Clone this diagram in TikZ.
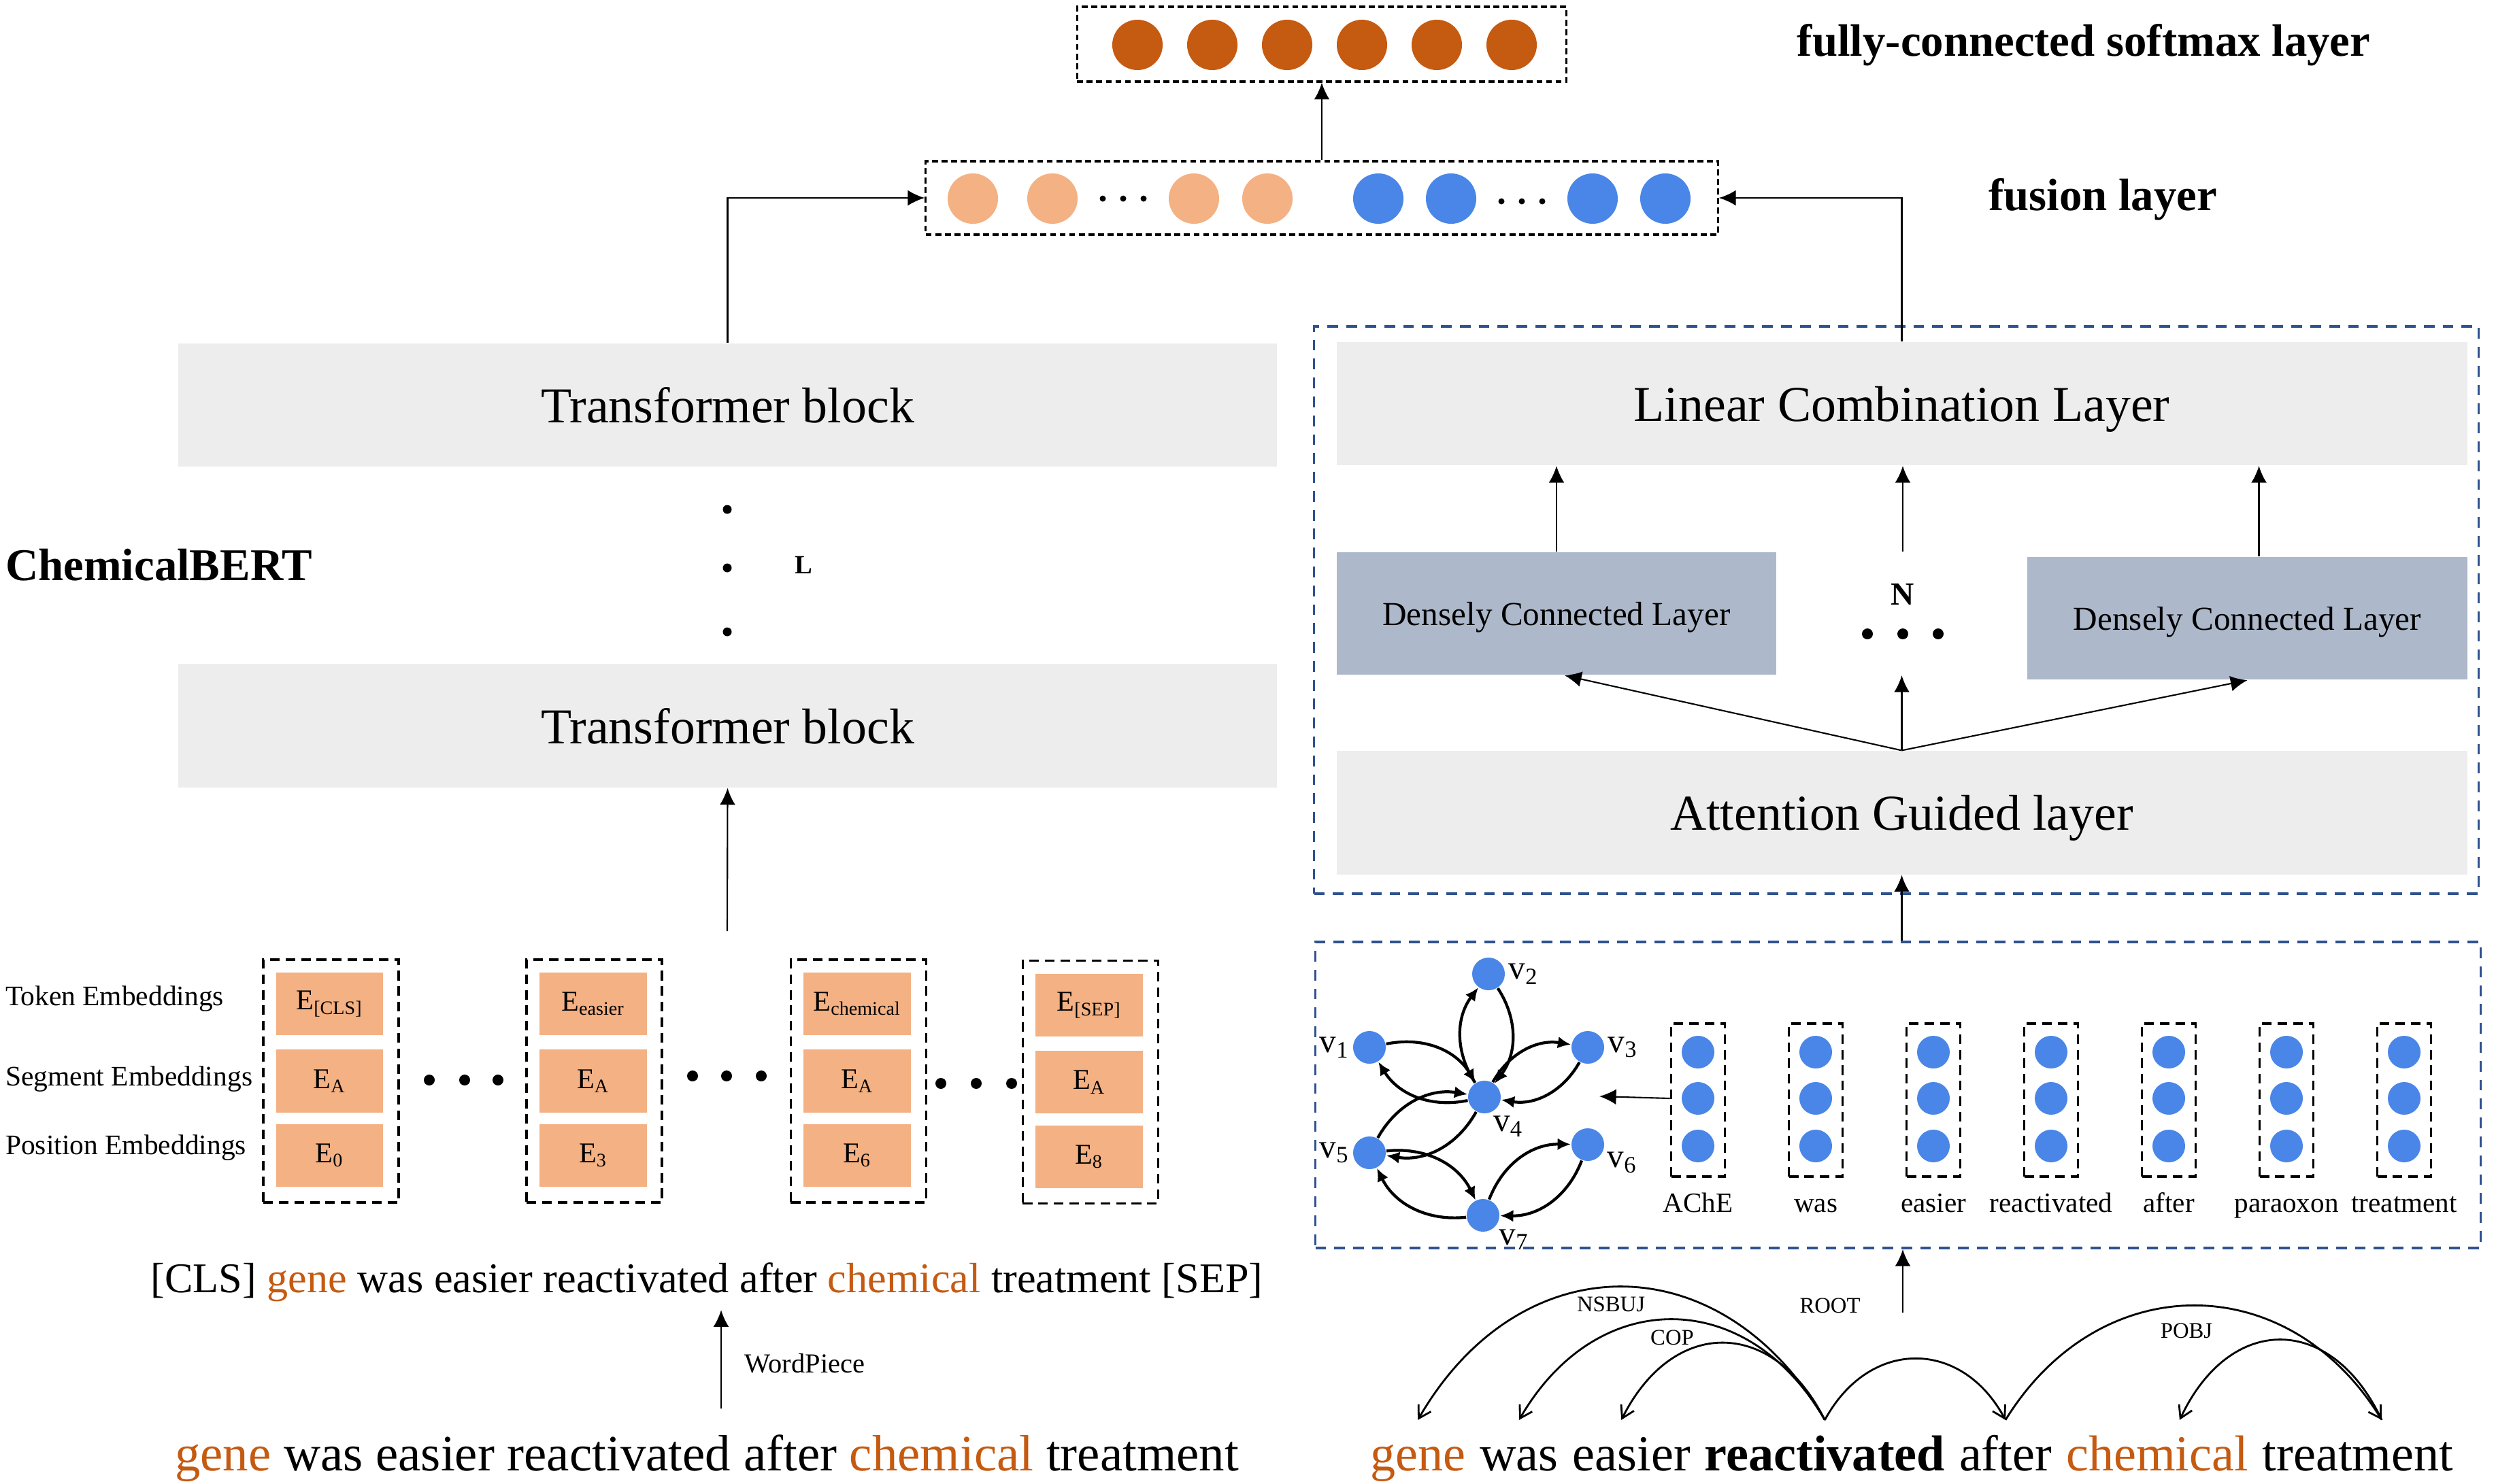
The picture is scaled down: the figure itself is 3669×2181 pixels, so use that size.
\documentclass[tikz,border=0pt]{standalone}
\usepackage{fontspec}
\setmainfont{Liberation Serif}
\usetikzlibrary{positioning,arrows.meta}
\definecolor{darkorange}{RGB}{197,90,17}
\definecolor{peach}{RGB}{244,177,131}
\definecolor{nodeblue}{RGB}{74,134,232}
\definecolor{layergrey}{RGB}{237,237,237}
\definecolor{densegrey}{RGB}{173,185,202}
\definecolor{boxblue}{RGB}{47,82,143}
\begin{document}
\begin{tikzpicture}[x=0.01cm, y=-0.01cm, line width=0.6pt,
    >={Latex[length=7pt,width=6.5pt]},
    blocklayer/.style={fill=layergrey, minimum height=1.81cm, text depth=0pt, font=\fontsize{21}{25}\selectfont},
    dense/.style={fill=densegrey, minimum width=6.46cm, minimum height=1.80cm, text depth=0pt, font=\fontsize{14}{17}\selectfont},
    dbox/.style={draw, line width=0.9pt, dash pattern=on 2.5pt off 1.5pt},
    bbox/.style={draw=boxblue, line width=1.1pt, dash pattern=on 4.5pt off 3.4pt},
    ebox/.style={draw, line width=1pt, dash pattern=on 4pt off 2.5pt},
    unit/.style={circle, inner sep=0pt, minimum size=0.74cm},
    emb/.style={fill=peach, minimum width=1.57cm, minimum height=0.92cm, font=\fontsize{12}{14}\selectfont},
    gnode/.style={circle, fill=nodeblue, inner sep=0pt, minimum size=0.48cm},
    vlab/.style={font=\fontsize{14}{16}\selectfont, inner sep=1pt},
    gedge/.style={->, >={Latex[length=5.5pt,width=5pt]}, line width=1.2pt},
    wordcol/.style={ebox, minimum width=0.79cm, minimum height=2.25cm},
    wlab/.style={anchor=base, font=\fontsize{11.7}{14}\selectfont},
    tok/.style={inner xsep=0pt, inner ysep=5.5pt, text height=15.3pt, text depth=4.7pt, font=\fontsize{21.1}{25}\selectfont},
    dep/.style={line width=0.8pt, -{Straight Barb[length=5pt,width=6pt]}},
    deplab/.style={font=\fontsize{9.3}{11}\selectfont},
    headlabel/.style={font=\bfseries\fontsize{19}{23}\selectfont},
    rowlab/.style={anchor=west, inner sep=0pt, font=\fontsize{11.8}{14}\selectfont}]
    \useasboundingbox (0,0) rectangle (3669,2181);

    % softmax layer
    \node[dbox, minimum width=7.19cm, minimum height=1.10cm] (softmax) at (1943,65) {};
    \node[unit, fill=darkorange] (o1) at (1672,66) {};
    \node[unit, fill=darkorange] (o2) at (1782,66) {};
    \node[unit, fill=darkorange] (o3) at (1892,66) {};
    \node[unit, fill=darkorange] (o4) at (2002,66) {};
    \node[unit, fill=darkorange] (o5) at (2112,66) {};
    \node[unit, fill=darkorange] (o6) at (2222,66) {};
    \node[headlabel] (fclabel) at (3063,66) {fully-connected softmax layer};

    % fusion layer
    \node[dbox, minimum width=11.64cm, minimum height=1.08cm] (fusion) at (1943,291) {};
    \node[unit, fill=peach] (f1) at (1430,292) {};
    \node[unit, fill=peach] (f2) at (1547,292) {};
    \node[unit, fill=peach] (f3) at (1755,292) {};
    \node[unit, fill=peach] (f4) at (1863,292) {};
    \node[unit, fill=nodeblue] (f5) at (2026,292) {};
    \node[unit, fill=nodeblue] (f6) at (2133,292) {};
    \node[unit, fill=nodeblue] (f7) at (2341,292) {};
    \node[unit, fill=nodeblue] (f8) at (2448,292) {};
    \fill (1621,292) circle (0.045cm) (1651,292) circle (0.045cm) (1681,292) circle (0.045cm);
    \fill (2207,296) circle (0.045cm) (2237,296) circle (0.045cm) (2267,296) circle (0.045cm);
    \node[headlabel] (fuslabel) at (3091,293) {fusion layer};
    \draw[->] (fusion.north) -- (softmax.south);

    % ChemicalBERT
    \node[blocklayer, minimum width=16.15cm] (tb2) at (1069.5,595.5) {Transformer block};
    \node[blocklayer, minimum width=16.15cm] (tb1) at (1069.5,1067) {Transformer block};
    \fill (1069,749) circle (0.065cm) (1069,835) circle (0.065cm) (1069,929) circle (0.065cm);
    \node[font=\bfseries\fontsize{11}{13}\selectfont] (nl) at (1181,831) {L};
    \node[anchor=west, inner sep=0pt, font=\bfseries\fontsize{19}{23}\selectfont] (chembert) at (7,831) {ChemicalBERT};
    \draw[->] (tb2.north) |- (fusion.west);

    % embeddings
    \node[rowlab] (tokrow) at (7,1469) {Token Embeddings};
    \node[rowlab] (segrow) at (7,1587) {Segment Embeddings};
    \node[rowlab] (posrow) at (7,1688) {Position Embeddings};
    \node[ebox, minimum width=1.99cm, minimum height=3.57cm] (c1) at (486.5,1589.5) {};
    \node[ebox, minimum width=1.99cm, minimum height=3.57cm] (c2) at (873.5,1589.5) {};
    \node[ebox, minimum width=1.99cm, minimum height=3.57cm] (c3) at (1262,1589.5) {};
    \node[ebox, minimum width=1.99cm, minimum height=3.57cm] (c4) at (1603,1591) {};
    \node[emb] (t1) at (484.5,1476) {E\textsubscript{[CLS]}};
    \node[emb] (s1) at (484.5,1589.5) {E\textsubscript{A}};
    \node[emb] (p1) at (484.5,1699) {E\textsubscript{0}};
    \node[emb] (t2) at (872,1476) {E\textsubscript{easier}};
    \node[emb] (s2) at (872,1589.5) {E\textsubscript{A}};
    \node[emb] (p2) at (872,1699) {E\textsubscript{3}};
    \node[emb] (t3) at (1260,1476) {E\textsubscript{chemical}};
    \node[emb] (s3) at (1260,1589.5) {E\textsubscript{A}};
    \node[emb] (p3) at (1260,1699) {E\textsubscript{6}};
    \node[emb] (t4) at (1601,1478) {E\textsubscript{[SEP]}};
    \node[emb] (s4) at (1601,1591) {E\textsubscript{A}};
    \node[emb] (p4) at (1601,1701) {E\textsubscript{8}};
    \fill (631,1588) circle (0.08cm) (683,1588) circle (0.08cm) (732,1588) circle (0.08cm);
    \fill (1018,1582) circle (0.08cm) (1068,1582) circle (0.08cm) (1119,1582) circle (0.08cm);
    \fill (1383,1593) circle (0.08cm) (1435,1593) circle (0.08cm) (1487,1593) circle (0.08cm);
    \coordinate (embtop) at (1069,1369);
    \draw[->] (embtop) -- (tb1.south);

    % input sentence
    \node[anchor=base, font=\fontsize{17.7}{21}\selectfont] (cls) at (1039,1900) {[CLS] \textcolor{darkorange}{gene} was easier reactivated after \textcolor{darkorange}{chemical} treatment [SEP]};
    \node[anchor=base, font=\fontsize{21.3}{25}\selectfont] (sent) at (1039,2162) {\textcolor{darkorange}{gene} was easier reactivated after \textcolor{darkorange}{chemical} treatment};
    \coordinate (wptail) at (1060,2071);
    \draw[->] (wptail) -- (cls.south -| wptail);
    \node[anchor=west, font=\fontsize{11.5}{14}\selectfont] (wplabel) at (1082,2005) {WordPiece};

    % AGGCN
    \node[bbox, minimum width=17.11cm, minimum height=8.34cm] (gcn) at (2787.5,897) {};
    \node[blocklayer, minimum width=16.61cm] (linear) at (2795.5,593.5) {Linear Combination Layer};
    \node[dense] (denseL) at (2288,902) {Densely Connected Layer};
    \node[dense] (denseR) at (3303.5,909) {Densely Connected Layer};
    \node[blocklayer, minimum width=16.61cm] (attn) at (2795.5,1195) {Attention Guided layer};
    \node[font=\bfseries\fontsize{13.5}{16}\selectfont] (nn) at (2797,874) {N};
    \fill (2745,932) circle (0.08cm) (2797,932) circle (0.08cm) (2849,932) circle (0.08cm);
    \draw[->] (linear.north) |- (fusion.east);
    \draw[->] (denseL.north) -- (denseL.north |- linear.south);
    \coordinate (nmid) at (2797,811);
    \draw[->] (nmid) -- (nmid |- linear.south);
    \coordinate (dRtop) at ([xshift=1.7mm]denseR.north);
    \draw[->] (dRtop) -- (dRtop |- linear.south);
    \draw[->] (attn.north) -- ([xshift=1.2mm]denseL.south);
    \draw[->] (attn.north) -- (attn.north |- denseL.south);
    \draw[->] (attn.north) -- (denseR.south);

    % graph
    \node[bbox, minimum width=17.12cm, minimum height=4.50cm] (graph) at (2790,1610) {};
    \draw[->] (graph.north -| attn.south) -- (attn.south);
    \node[gnode, label={[vlab]left:v\textsubscript{1}}] (v1) at (2013,1540) {};
    \node[gnode, label={[vlab]right:v\textsubscript{2}}] (v2) at (2188,1432) {};
    \node[gnode, label={[vlab]right:v\textsubscript{3}}] (v3) at (2334,1540) {};
    \node[gnode, label={[vlab]-70:v\textsubscript{4}}] (v4) at (2182,1613) {};
    \node[gnode, label={[vlab]left:v\textsubscript{5}}] (v5) at (2013,1695) {};
    \node[gnode, label={[vlab]-15:v\textsubscript{6}}] (v6) at (2334,1683) {};
    \node[gnode, label={[vlab]-40:v\textsubscript{7}}] (v7) at (2180,1787) {};
    \draw[gedge] (v4) to[bend left=35] (v2);
    \draw[gedge] (v2) to[bend left=35] (v4);
    \draw[gedge] (v4) to[bend left=35] (v1);
    \draw[gedge] (v1) to[bend left=35] (v4);
    \draw[gedge] (v4) to[bend left=35] (v3);
    \draw[gedge] (v3) to[bend left=35] (v4);
    \draw[gedge] (v4) to[bend left=35] (v5);
    \draw[gedge] (v5) to[bend left=35] (v4);
    \draw[gedge] (v5) to[bend left=35] (v7);
    \draw[gedge] (v7) to[bend left=35] (v5);
    \draw[gedge] (v7) to[bend left=35] (v6);
    \draw[gedge] (v6) to[bend left=35] (v7);

    % word vectors
    \node[wordcol] (w1) at (2496,1617.5) {};
    \node[wordcol] (w2) at (2669,1617.5) {};
    \node[wordcol] (w3) at (2842,1617.5) {};
    \node[wordcol] (w4) at (3015,1617.5) {};
    \node[wordcol] (w5) at (3188,1617.5) {};
    \node[wordcol] (w6) at (3361,1617.5) {};
    \node[wordcol] (w7) at (3534,1617.5) {};
    \node[gnode] (w1a) at (2496,1547) {};
    \node[gnode] (w1b) at (2496,1615) {};
    \node[gnode] (w1c) at (2496,1685) {};
    \node[gnode] (w2a) at (2669,1547) {};
    \node[gnode] (w2b) at (2669,1615) {};
    \node[gnode] (w2c) at (2669,1685) {};
    \node[gnode] (w3a) at (2842,1547) {};
    \node[gnode] (w3b) at (2842,1615) {};
    \node[gnode] (w3c) at (2842,1685) {};
    \node[gnode] (w4a) at (3015,1547) {};
    \node[gnode] (w4b) at (3015,1615) {};
    \node[gnode] (w4c) at (3015,1685) {};
    \node[gnode] (w5a) at (3188,1547) {};
    \node[gnode] (w5b) at (3188,1615) {};
    \node[gnode] (w5c) at (3188,1685) {};
    \node[gnode] (w6a) at (3361,1547) {};
    \node[gnode] (w6b) at (3361,1615) {};
    \node[gnode] (w6c) at (3361,1685) {};
    \node[gnode] (w7a) at (3534,1547) {};
    \node[gnode] (w7b) at (3534,1615) {};
    \node[gnode] (w7c) at (3534,1685) {};
    \node[wlab] (l1) at (2496,1782) {AChE};
    \node[wlab] (l2) at (2669,1782) {was};
    \node[wlab] (l3) at (2842,1782) {easier};
    \node[wlab] (l4) at (3015,1782) {reactivated};
    \node[wlab] (l5) at (3188,1782) {after};
    \node[wlab] (l6) at (3361,1782) {paraoxon};
    \node[wlab] (l7) at (3534,1782) {treatment};
    \coordinate (ginto) at (2351,1612);
    \draw[->] (w1b.west -| w1.west) -- (ginto);

    % dependency tree
    \node[tok, anchor=base west, text=darkorange] (dgene) at (2013,2162) {gene};
    \node[tok, base right=1.9mm of dgene] (dwas) {was};
    \node[tok, base right=1.9mm of dwas] (deasier) {easier};
    \node[tok, base right=1.9mm of deasier, font=\bfseries\fontsize{21.1}{25}\selectfont] (dreact) {reactivated};
    \node[tok, base right=1.9mm of dreact] (dafter) {after};
    \node[tok, base right=1.9mm of dafter, text=darkorange] (dchem) {chemical};
    \node[tok, base right=1.9mm of dchem] (dtreat) {treatment};
    \draw[dep] (dreact.north) .. controls +(-151,-261) and +(151,-261) .. (dgene.north);
    \draw[dep] (dreact.north) .. controls +(-114,-197) and +(114,-197) .. (dwas.north);
    \draw[dep] (dreact.north) .. controls +(-76,-151) and +(76,-151) .. ([xshift=-1.5mm]deasier.north);
    \draw[dep] (dreact.north) .. controls +(65,-120) and +(-65,-120) .. (dafter.north);
    \draw[dep] (dafter.north) .. controls +(138,-224) and +(-138,-224) .. ([xshift=3.5mm]dtreat.north);
    \draw[dep] ([xshift=3.5mm]dtreat.north) .. controls +(-74,-157) and +(74,-157) .. ([xshift=3.3mm]dchem.north);
    \node[deplab] (nsubj) at (2368,1918) {NSBUJ};
    \node[deplab] (cop) at (2458,1967) {COP};
    \node[deplab] (rootlab) at (2690,1920) {ROOT};
    \node[deplab] (pobj) at (3214,1957) {POBJ};
    \coordinate (root) at (2797,1930);
    \draw[->] (root) -- (root |- graph.south);
\end{tikzpicture}
\end{document}
